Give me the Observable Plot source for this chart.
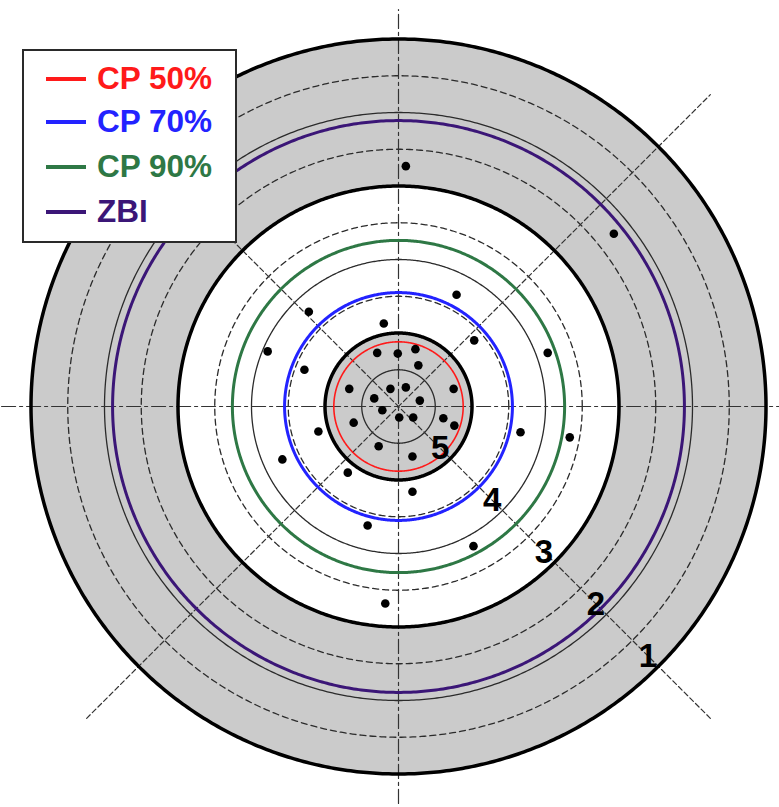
<!DOCTYPE html>
<html>
<head>
<meta charset="utf-8">
<script src="https://cdn.jsdelivr.net/npm/d3@7"></script>
<script src="https://cdn.jsdelivr.net/npm/@observablehq/plot@0.6"></script>
<style>
  html, body { margin: 0; padding: 0; background: #fff; }
  #wrap { position: relative; width: 779px; height: 807px; }
  #legend {
    position: absolute; left: 22px; top: 49px; width: 211px; height: 190px;
    border: 2px solid #2a2a2a; background: #fff;
    font-family: "Liberation Sans", Arial, sans-serif; font-weight: bold;
  }
  .item { position: absolute; left: 0; height: 40px; display: flex; align-items: center; }
  .swatch { width: 40px; height: 4px; margin-left: 22px; margin-right: 11px; }
  .label { font-size: 31.5px; line-height: 1; }
</style>
</head>
<body>
<div id="wrap"><div id="legend"></div></div>
<script>
// Ring score labels and ring boundaries (in ring units from the centre)
const ringLabels = [1, 2, 3, 4, 5];
const ringOuterEdge = [5, 4, 3, 2, 1];

// Reference circles (ring units)
const boldCircles = [1, 3, 5];
const thinCircles = [0.5, 2, 4];
const dashedCircles = [1.5, 2.5, 3.5, 4.5];

// Shaded bands: [outer radius, fill], painted from the outside in
const bandRadii = [5, 3, 1];
const bandFills = ["#cbcbcb", "#ffffff", "#cbcbcb"];

// Probability contours
const contourNames = ["CP 50%", "CP 70%", "CP 90%", "ZBI"];
const contourRadii = [0.88, 1.55, 2.26, 3.89];
const contourColors = ["#ff1a1a", "#2323ff", "#2e7845", "#3b1677"];
const contourWidths = [1.6, 3, 3, 3];

// Observed impact points (ring units, x to the right, y up)
const pointX = [0.10, 2.93, 0.79, -1.22, -0.20, 1.03, -1.78, 2.03, -0.29, -0.01, 0.23, -1.28,
  0.27, -0.67, -0.11, 0.10, 0.75, -0.33, 0.29, -0.22, 0.01, 0.20, 0.61, 0.76, -0.61, -1.09,
  1.66, 2.33, -0.27, 0.19, -1.58, -0.69, 0.19, -0.42, 1.02, -0.18];
const pointY = [3.27, 2.35, 1.52, 1.29, 1.13, 0.90, 0.75, 0.73, 0.73, 0.72, 0.78, 0.50,
  0.56, 0.24, 0.24, 0.26, 0.24, 0.11, 0.08, -0.05, -0.15, -0.15, -0.16, -0.26, -0.22, -0.34,
  -0.35, -0.42, -0.54, -0.68, -0.72, -0.90, -1.16, -1.62, -1.90, -2.68];

// Axis extents (ring units)
const crossAxisLength = 5.4;
const diagonalLength = 6;

// Layout
const W = 779, H = 807, unit = 73.5, cx = 398, cy = 406;

function circle(r, n = 720) {
  const pts = [];
  for (let i = 0; i <= n; i++) {
    const a = (i / n) * 2 * Math.PI;
    pts.push({x: r * Math.cos(a), y: r * Math.sin(a)});
  }
  return pts;
}
function ray(angleDeg, len) {
  const a = angleDeg * Math.PI / 180;
  return [{x: -len * Math.cos(a), y: -len * Math.sin(a)}, {x: len * Math.cos(a), y: len * Math.sin(a)}];
}

const points = pointX.map((x, i) => ({x, y: pointY[i]}));
const diag = Math.SQRT1_2;
const labels = ringLabels.map((k, i) => ({k, x: (ringOuterEdge[i] - 0.2) * diag, y: -(ringOuterEdge[i] - 0.2) * diag}));

const marks = [];
bandRadii.forEach((r, i) => marks.push(Plot.line(circle(r), {x: "x", y: "y", fill: bandFills[i], stroke: "none"})));
thinCircles.forEach(r => marks.push(Plot.line(circle(r), {x: "x", y: "y", stroke: "#2b2b2b", strokeWidth: 1.3})));
dashedCircles.forEach(r => marks.push(Plot.line(circle(r), {x: "x", y: "y", stroke: "#2b2b2b", strokeWidth: 1.3, strokeDasharray: "6,4"})));
// cross axes (dash-dot) and diagonals (dashed)
[0, 90].forEach(a => marks.push(Plot.line(ray(a, crossAxisLength), {x: "x", y: "y", stroke: "#333", strokeWidth: 1.2, strokeDasharray: "14,4,3,4"})));
[45, 135].forEach(a => marks.push(Plot.line(ray(a, diagonalLength), {x: "x", y: "y", stroke: "#333", strokeWidth: 1.2, strokeDasharray: "5,3"})));
boldCircles.forEach(r => marks.push(Plot.line(circle(r), {x: "x", y: "y", stroke: "#000", strokeWidth: 3.5})));
contourRadii.forEach((r, i) => marks.push(Plot.line(circle(r), {x: "x", y: "y", stroke: contourColors[i], strokeWidth: contourWidths[i]})));
marks.push(Plot.dot(points, {x: "x", y: "y", r: 4.3, fill: "#000", stroke: "none"}));
marks.push(Plot.text(labels, {x: "x", y: "y", text: d => String(d.k), fontSize: 33, fontWeight: "bold", fill: "#000",
  fontFamily: "Liberation Sans, Arial, sans-serif"}));

const chart = Plot.plot({
  width: W, height: H, margin: 0,
  x: {domain: [-cx / unit, (W - cx) / unit], axis: null},
  y: {domain: [-(H - cy) / unit, cy / unit], axis: null},
  style: {background: "#fff", overflow: "hidden"},
  marks
});
document.getElementById("wrap").prepend(chart);

// Legend
const legend = document.getElementById("legend");
const rowTops = [8, 51, 96, 141];
contourNames.forEach((name, i) => {
  const item = document.createElement("div");
  item.className = "item";
  item.style.top = rowTops[i] + "px";
  const sw = document.createElement("div");
  sw.className = "swatch";
  sw.style.background = contourColors[i];
  const lb = document.createElement("div");
  lb.className = "label";
  lb.style.color = contourColors[i];
  lb.textContent = name;
  item.append(sw, lb);
  legend.append(item);
});
</script>
</body>
</html>
